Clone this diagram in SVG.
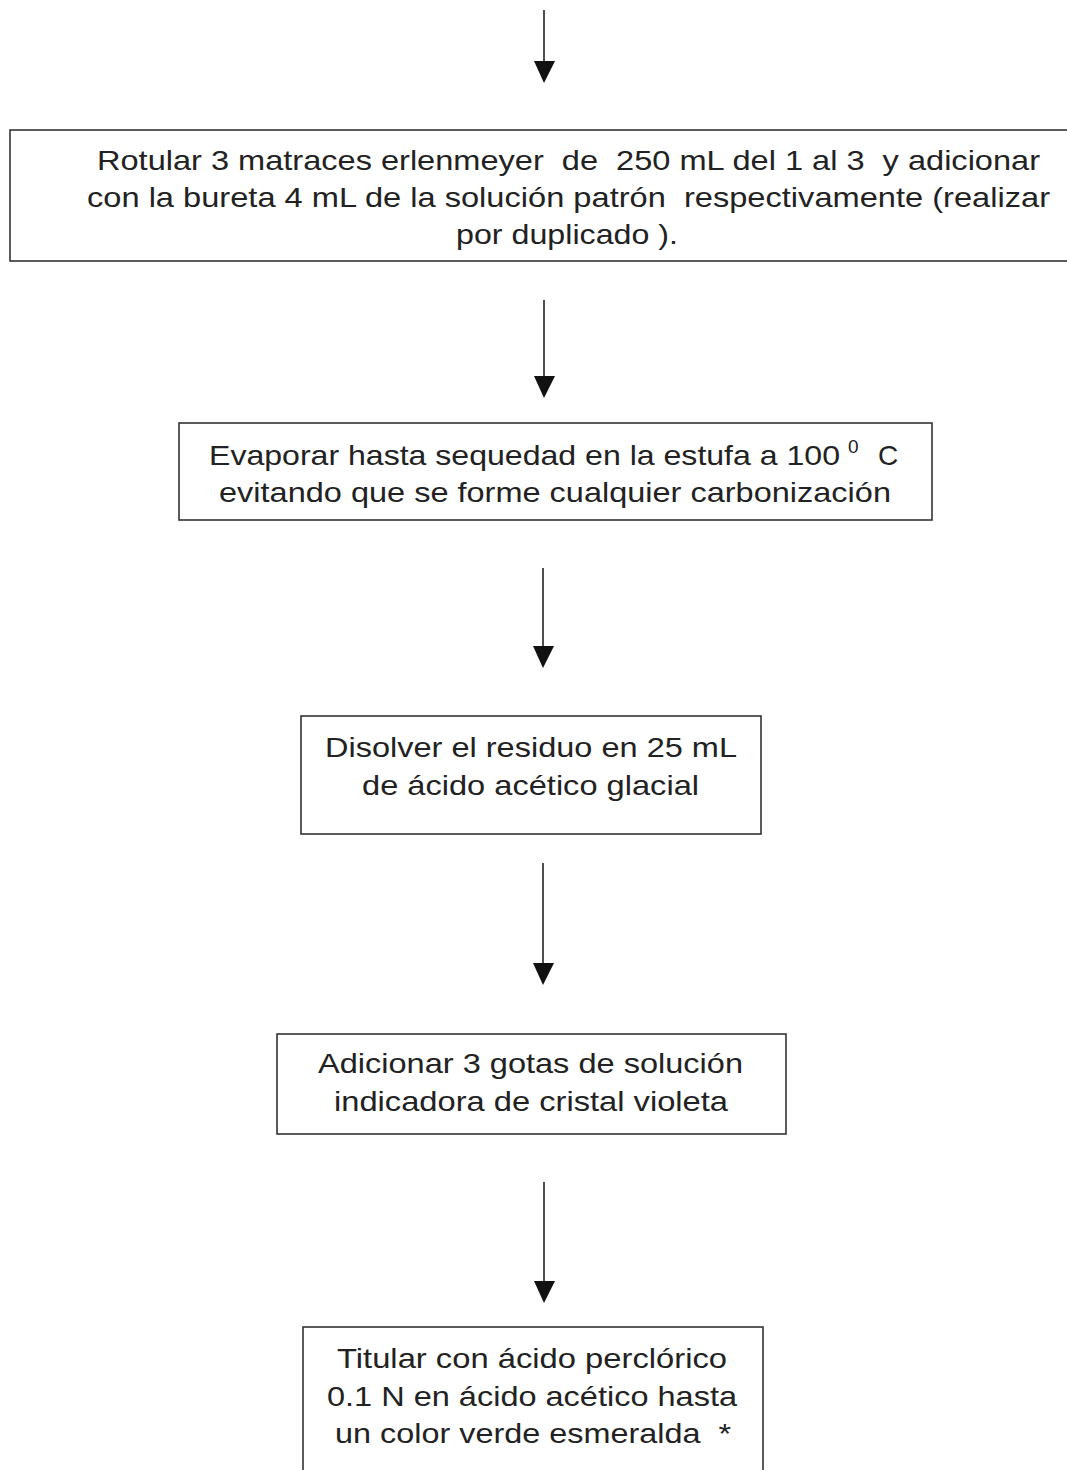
<svg xmlns="http://www.w3.org/2000/svg" width="1067" height="1470" viewBox="0 0 1067 1470">
<defs>
<style>
.box{fill:#fff;stroke:#333;stroke-width:1.6}
.t{font-family:"Liberation Sans",Arial,sans-serif;font-size:28px;fill:#222;white-space:pre}
.c{stroke:#222;stroke-width:1.6;fill:none}
.h{fill:#111}
</style>
</defs>
<rect width="1067" height="1470" fill="#fff"/>
<g id="connectors">
<line class="c" x1="544" y1="10" x2="544" y2="61"/>
<path class="h" d="M534,61 L555,61 L544,83 Z"/>
<line class="c" x1="544" y1="300" x2="544" y2="376"/>
<path class="h" d="M534,376 L555,376 L544,398 Z"/>
<line class="c" x1="543" y1="568" x2="543" y2="646"/>
<path class="h" d="M533,646 L554,646 L543,668 Z"/>
<line class="c" x1="543" y1="863" x2="543" y2="963"/>
<path class="h" d="M533,963 L554,963 L543,985 Z"/>
<line class="c" x1="544" y1="1182" x2="544" y2="1281"/>
<path class="h" d="M534,1281 L555,1281 L544,1303 Z"/>
</g>
<g id="node1">
<rect class="box" x="10" y="130" width="1065" height="131"/>
<text class="t" x="97" y="170" textLength="943" lengthAdjust="spacingAndGlyphs" xml:space="preserve">Rotular 3 matraces erlenmeyer  de  250 mL del 1 al 3  y adicionar</text>
<text class="t" x="87" y="207" textLength="963" lengthAdjust="spacingAndGlyphs" xml:space="preserve">con la bureta 4 mL de la solución patrón  respectivamente (realizar</text>
<text class="t" x="456" y="244" textLength="222" lengthAdjust="spacingAndGlyphs">por duplicado ).</text>
</g>
<g id="node2">
<rect class="box" x="179" y="423" width="753" height="97"/>
<text class="t" x="209" y="465" textLength="631" lengthAdjust="spacingAndGlyphs">Evaporar hasta sequedad en la estufa a 100</text>
<text class="t" x="848" y="453" style="font-size:19px">0</text>
<text class="t" x="878" y="465">C</text>
<text class="t" x="219" y="502" textLength="672" lengthAdjust="spacingAndGlyphs">evitando que se forme cualquier carbonización</text>
</g>
<g id="node3">
<rect class="box" x="301" y="716" width="460" height="118"/>
<text class="t" x="325" y="757" textLength="412" lengthAdjust="spacingAndGlyphs">Disolver el residuo en 25 mL</text>
<text class="t" x="362" y="795" textLength="337" lengthAdjust="spacingAndGlyphs">de ácido acético glacial</text>
</g>
<g id="node4">
<rect class="box" x="277" y="1034" width="509" height="100"/>
<text class="t" x="318" y="1073" textLength="425" lengthAdjust="spacingAndGlyphs">Adicionar 3 gotas de solución</text>
<text class="t" x="334" y="1111" textLength="394" lengthAdjust="spacingAndGlyphs">indicadora de cristal violeta</text>
</g>
<g id="node5">
<rect class="box" x="303" y="1327" width="460" height="200"/>
<text class="t" x="337" y="1368" textLength="390" lengthAdjust="spacingAndGlyphs">Titular con ácido perclórico</text>
<text class="t" x="327" y="1406" textLength="410" lengthAdjust="spacingAndGlyphs">0.1 N en ácido acético hasta</text>
<text class="t" x="335" y="1443" textLength="396" lengthAdjust="spacingAndGlyphs" xml:space="preserve">un color verde esmeralda  *</text>
</g>
</svg>
